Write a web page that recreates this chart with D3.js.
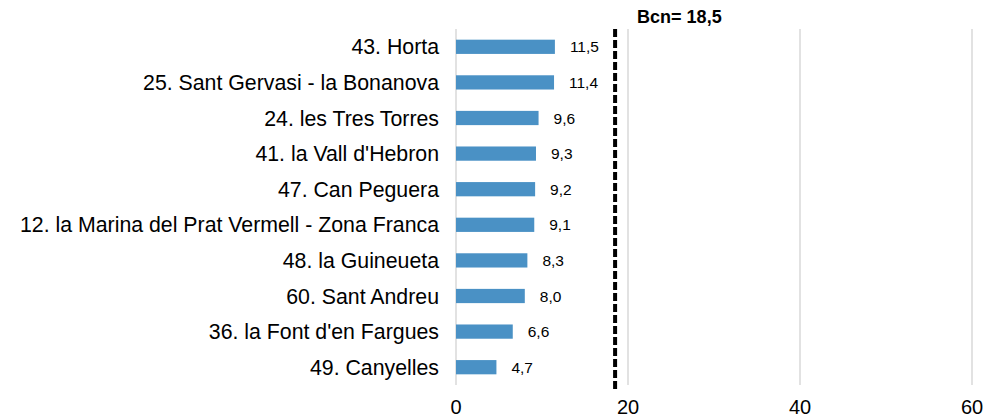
<!DOCTYPE html>
<html>
<head>
<meta charset="utf-8">
<script src="https://cdn.jsdelivr.net/npm/d3@7"></script>
<style>
  body { margin: 0; background: #fff; }
  svg { font-family: "Liberation Sans", Arial, sans-serif; }
</style>
</head>
<body>
<script>
// data
const barris = [
  "43. Horta",
  "25. Sant Gervasi - la Bonanova",
  "24. les Tres Torres",
  "41. la Vall d'Hebron",
  "47. Can Peguera",
  "12. la Marina del Prat Vermell - Zona Franca",
  "48. la Guineueta",
  "60. Sant Andreu",
  "36. la Font d'en Fargues",
  "49. Canyelles"
]
const valors = [11.5, 11.4, 9.6, 9.3, 9.2, 9.1, 8.3, 8.0, 6.6, 4.7]
const mitjanaBcn = 18.5
const ticks = [0, 20, 40, 60]

const width = 985, height = 419
const margin = { top: 29, right: 13, bottom: 34, left: 456 }

const svg = d3.select("body").append("svg")
  .attr("width", width)
  .attr("height", height)

const x = d3.scaleLinear()
  .domain([0, 60])
  .range([margin.left, width - margin.right])

const y = d3.scaleBand()
  .domain(barris)
  .range([margin.top, height - margin.bottom])
  .paddingInner(0.6)
  .paddingOuter(0.3)

const fmt = v => d3.format(".1f")(v).replace(".", ",")

// gridlines
svg.append("g")
  .selectAll("line")
  .data(ticks)
  .join("line")
  .attr("x1", d => x(d))
  .attr("x2", d => x(d))
  .attr("y1", margin.top)
  .attr("y2", height - margin.bottom)
  .attr("stroke", "#d9d9d9")
  .attr("stroke-width", 1.5)

// tick labels
svg.append("g")
  .selectAll("text")
  .data(ticks)
  .join("text")
  .attr("x", d => x(d))
  .attr("y", 414)
  .attr("text-anchor", "middle")
  .attr("font-size", "20px")
  .attr("fill", "#000")
  .text(d => d)

// bars
svg.append("g")
  .selectAll("rect")
  .data(valors)
  .join("rect")
  .attr("x", x(0))
  .attr("y", (d, i) => y(barris[i]))
  .attr("width", d => x(d) - x(0))
  .attr("height", y.bandwidth())
  .attr("fill", "#4a91c5")

// value labels
svg.append("g")
  .selectAll("text")
  .data(valors)
  .join("text")
  .attr("x", d => x(d) + 15)
  .attr("y", (d, i) => y(barris[i]) + y.bandwidth() / 2)
  .attr("dy", "0.36em")
  .attr("font-size", "15.5px")
  .attr("fill", "#000")
  .text(d => fmt(d))

// category labels
svg.append("g")
  .selectAll("text")
  .data(barris)
  .join("text")
  .attr("x", x(0) - 17)
  .attr("y", d => y(d) + y.bandwidth() / 2)
  .attr("dy", "0.36em")
  .attr("text-anchor", "end")
  .attr("font-size", "21.3px")
  .attr("fill", "#000")
  .text(d => d)

// Barcelona average line
svg.append("line")
  .attr("x1", x(mitjanaBcn))
  .attr("x2", x(mitjanaBcn))
  .attr("y1", margin.top)
  .attr("y2", height - margin.bottom + 7)
  .attr("stroke", "#000")
  .attr("stroke-width", 4)
  .attr("stroke-dasharray", "8,3")

svg.append("text")
  .attr("x", x(mitjanaBcn) + 22)
  .attr("y", 23)
  .attr("font-size", "18px")
  .attr("font-weight", "bold")
  .text("Bcn= " + fmt(mitjanaBcn))
</script>
</body>
</html>
